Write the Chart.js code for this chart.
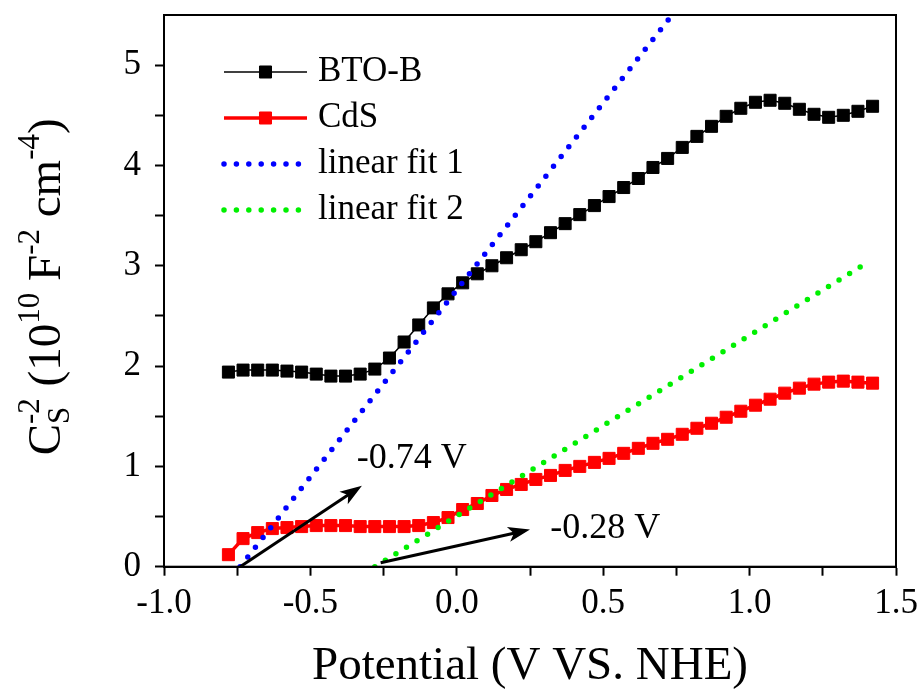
<!DOCTYPE html>
<html>
<head>
<meta charset="utf-8">
<script src="https://cdn.jsdelivr.net/npm/chart.js@4.4.0/dist/chart.umd.min.js"></script>
<style>
    body { margin: 0; background: #fff; }
    #wrap { width: 922px; height: 695px; }
</style>
</head>
<body>
<div id="wrap"><canvas id="mott-chart"></canvas></div>
<script>
// 电位 (V vs NHE)
const potential = [-0.78, -0.73, -0.68, -0.63, -0.58, -0.53, -0.48, -0.43, -0.38, -0.33,
    -0.28, -0.23, -0.18, -0.13, -0.08, -0.03, 0.02, 0.07, 0.12, 0.17,
    0.22, 0.27, 0.32, 0.37, 0.42, 0.47, 0.52, 0.57, 0.62, 0.67,
    0.72, 0.77, 0.82, 0.87, 0.92, 0.97, 1.02, 1.07, 1.12, 1.17,
    1.22, 1.27, 1.32, 1.37, 1.42];

// Cs^-2 (10^10 F^-2 cm^-4)
const btoB = [1.94, 1.96, 1.96, 1.96, 1.95, 1.94, 1.92, 1.90, 1.90, 1.92,
    1.97, 2.08, 2.24, 2.41, 2.58, 2.72, 2.83, 2.92, 3.00, 3.08,
    3.16, 3.24, 3.33, 3.42, 3.51, 3.60, 3.69, 3.78, 3.87, 3.98,
    4.07, 4.18, 4.29, 4.39, 4.49, 4.57, 4.63, 4.65, 4.62, 4.56,
    4.51, 4.48, 4.50, 4.54, 4.59];

const cds = [0.12, 0.28, 0.34, 0.38, 0.39, 0.40, 0.41, 0.41, 0.41, 0.40,
    0.40, 0.40, 0.40, 0.41, 0.44, 0.49, 0.57, 0.63, 0.71, 0.77,
    0.82, 0.87, 0.91, 0.96, 1.00, 1.04, 1.08, 1.13, 1.18, 1.23,
    1.27, 1.32, 1.38, 1.43, 1.49, 1.55, 1.61, 1.67, 1.73, 1.78,
    1.82, 1.84, 1.85, 1.84, 1.83];

// 线性拟合端点
const fit1X = [-0.74, 0.735];
const fit1Y = [0, 5.5];
const fit2X = [-0.28, 1.39];
const fit2Y = [0, 3.01];

// 箭头和标注 (数据坐标)
const arrowFrom = [[-0.74, 0], [-0.26, 0.04]];
const arrowTo = [[-0.324, 0.807], [0.25, 0.37]];
const noteText = ['-0.74 V', '-0.28 V'];
const noteAt = [[-0.342, 1.08], [0.319, 0.377]];

const seriesNames = ['BTO-B', 'CdS', 'linear fit 1', 'linear fit 2'];

const FONT = '"Liberation Serif", "Times New Roman", serif';

const toPoints = (xs, ys) => xs.map((x, i) => ({ x: x, y: ys[i] }));

// 画箭头
function drawArrow(ctx, x1, y1, x2, y2) {
    const ang = Math.atan2(y2 - y1, x2 - x1);
    const cos = Math.cos(ang), sin = Math.sin(ang);
    const head = 22, half = 7.5;
    const bx = x2 - head * cos, by = y2 - head * sin;
    ctx.lineWidth = 3;
    ctx.beginPath();
    ctx.moveTo(x1, y1);
    ctx.lineTo(x2 - head * 0.7 * cos, y2 - head * 0.7 * sin);
    ctx.stroke();
    ctx.beginPath();
    ctx.moveTo(x2, y2);
    ctx.lineTo(bx + half * sin, by - half * cos);
    ctx.lineTo(x2 - head * 0.75 * cos, y2 - head * 0.75 * sin);
    ctx.lineTo(bx - half * sin, by + half * cos);
    ctx.closePath();
    ctx.fill();
}

const overlay = {
    id: 'overlay',
    beforeDraw(chart) {
        const ctx = chart.ctx;
        ctx.save();
        ctx.fillStyle = '#fff';
        ctx.fillRect(0, 0, chart.width, chart.height);
        ctx.restore();
    },
    afterDraw(chart) {
        const ctx = chart.ctx;
        const area = chart.chartArea;
        const xs = chart.scales.x, ys = chart.scales.y;
        ctx.save();

        // 边框
        ctx.strokeStyle = '#000';
        ctx.lineWidth = 2;
        ctx.strokeRect(area.left, area.top, area.right - area.left, area.bottom - area.top);

        // 箭头
        ctx.fillStyle = '#000';
        arrowFrom.forEach((p, i) => {
            drawArrow(ctx, xs.getPixelForValue(p[0]), ys.getPixelForValue(p[1]),
                xs.getPixelForValue(arrowTo[i][0]), ys.getPixelForValue(arrowTo[i][1]));
        });

        // 标注文字
        ctx.font = '36px ' + FONT;
        ctx.textBaseline = 'middle';
        ctx.textAlign = 'left';
        noteText.forEach((t, i) => {
            ctx.fillText(t, xs.getPixelForValue(noteAt[i][0]), ys.getPixelForValue(noteAt[i][1]));
        });

        // 图例
        const lx0 = area.left + 60, lx1 = area.left + 143, tx = area.left + 154;
        chart.data.datasets.forEach((ds, i) => {
            const y = area.top + 57 + i * 46;
            ctx.save();
            ctx.strokeStyle = ds.borderColor;
            ctx.lineWidth = ds.borderWidth;
            ctx.lineCap = ds.borderCapStyle || 'butt';
            ctx.setLineDash(ds.borderDash || []);
            ctx.beginPath();
            ctx.moveTo(lx0, y);
            ctx.lineTo(lx1, y);
            ctx.stroke();
            ctx.restore();
            if (ds.pointRadius > 0) {
                ctx.fillStyle = ds.pointBackgroundColor;
                ctx.strokeStyle = ds.pointBorderColor;
                ctx.lineWidth = 1;
                Chart.helpers.drawPoint(ctx, { pointStyle: ds.pointStyle, radius: ds.pointRadius, borderWidth: 1 },
                    (lx0 + lx1) / 2, y);
            }
            ctx.fillStyle = '#000';
            ctx.font = '35px ' + FONT;
            ctx.textBaseline = 'middle';
            ctx.fillText(ds.label, tx, y);
        });

        // Y轴标题 (带上下标)
        const parts = [
            { t: 'C', s: 47, dy: 0 },
            { t: 'S', s: 31, dy: 9, stack: true },
            { t: '-2', s: 31, dy: -21 },
            { t: ' (10', s: 47, dy: 0 },
            { t: '10', s: 31, dy: -21 },
            { t: ' F', s: 47, dy: 0 },
            { t: '-2', s: 31, dy: -21 },
            { t: ' cm', s: 47, dy: 0 },
            { t: '-4', s: 31, dy: -21 },
            { t: ')', s: 47, dy: 0 }
        ];
        const widths = parts.map(p => { ctx.font = p.s + 'px ' + FONT; return ctx.measureText(p.t).width; });
        let total = 0;
        parts.forEach((p, i) => {
            if (p.stack) return;
            total += (i > 0 && parts[i - 1].stack) ? Math.max(widths[i], widths[i - 1]) : widths[i];
        });
        ctx.translate(60, (area.top + area.bottom) / 2 - 4);
        ctx.rotate(-Math.PI / 2);
        ctx.textBaseline = 'alphabetic';
        ctx.fillStyle = '#000';
        let cx = -total / 2;
        parts.forEach((p, i) => {
            ctx.font = p.s + 'px ' + FONT;
            ctx.fillText(p.t, cx, p.dy);
            if (p.stack) return;
            cx += (i > 0 && parts[i - 1].stack) ? Math.max(widths[i], widths[i - 1]) : widths[i];
        });
        ctx.restore();
    }
};

const ctx = document.getElementById('mott-chart').getContext('2d');
Chart.defaults.color = '#000';
Chart.defaults.font.family = FONT;

new Chart(ctx, {
    type: 'scatter',
    data: {
        datasets: [
            {
                label: seriesNames[0],
                data: toPoints(potential, btoB),
                showLine: true,
                borderColor: '#000',
                borderWidth: 1.5,
                pointStyle: 'rect',
                pointRadius: 8.5,
                pointBackgroundColor: '#000',
                pointBorderColor: '#000',
                pointBorderWidth: 1,
                order: 2
            },
            {
                label: seriesNames[1],
                data: toPoints(potential, cds),
                showLine: true,
                borderColor: '#ff0000',
                borderWidth: 3.5,
                pointStyle: 'rect',
                pointRadius: 8.5,
                pointBackgroundColor: '#ff0000',
                pointBorderColor: '#ff0000',
                pointBorderWidth: 1,
                order: 2
            },
            {
                label: seriesNames[2],
                data: toPoints(fit1X, fit1Y),
                showLine: true,
                borderColor: '#0000ff',
                borderWidth: 5.5,
                borderDash: [0, 12.4],
                borderCapStyle: 'round',
                pointRadius: 0,
                order: 0
            },
            {
                label: seriesNames[3],
                data: toPoints(fit2X, fit2Y),
                showLine: true,
                borderColor: '#00f000',
                borderWidth: 5.5,
                borderDash: [0, 12.4],
                borderCapStyle: 'round',
                pointRadius: 0,
                order: 0
            }
        ]
    },
    options: {
        responsive: true,
        maintainAspectRatio: false,
        animation: false,
        layout: { padding: { top: 15, right: 26, left: 0, bottom: 0 } },
        plugins: {
            legend: { display: false },
            tooltip: { enabled: false }
        },
        scales: {
            x: {
                type: 'linear',
                min: -1,
                max: 1.5,
                afterFit(scale) {
                    scale.height = 128.3;
                    scale.paddingLeft = 0;
                    scale.paddingRight = 0;
                },
                border: { display: true, color: '#000', width: 2 },
                grid: { drawOnChartArea: false, drawTicks: true, tickLength: 9, tickWidth: 2, tickColor: '#000' },
                ticks: {
                    stepSize: 0.25,
                    autoSkip: false,
                    maxRotation: 0,
                    padding: 7,
                    font: { family: FONT, size: 35 },
                    callback: v => Math.abs(v * 2 - Math.round(v * 2)) < 1e-9 ? v.toFixed(1) : ''
                },
                title: {
                    display: true,
                    text: 'Potential (V VS. NHE)',
                    font: { family: FONT, size: 47 },
                    padding: { top: 0, bottom: 0 }
                }
            },
            y: {
                min: 0,
                max: 5.5,
                afterFit(scale) {
                    scale.width = 164;
                    scale.paddingTop = 0;
                    scale.paddingBottom = 0;
                },
                border: { display: true, color: '#000', width: 2 },
                grid: {
                    drawOnChartArea: false, drawTicks: true, tickLength: 9, tickWidth: 2,
                    tickColor: c => (c.tick && c.tick.value >= 5.5) ? 'rgba(0,0,0,0)' : '#000'
                },
                ticks: {
                    stepSize: 0.5,
                    autoSkip: false,
                    padding: 14,
                    font: { family: FONT, size: 35 },
                    callback: v => Number.isInteger(v) ? String(v) : ''
                }
            }
        }
    },
    plugins: [overlay]
});
</script>
</body>
</html>
